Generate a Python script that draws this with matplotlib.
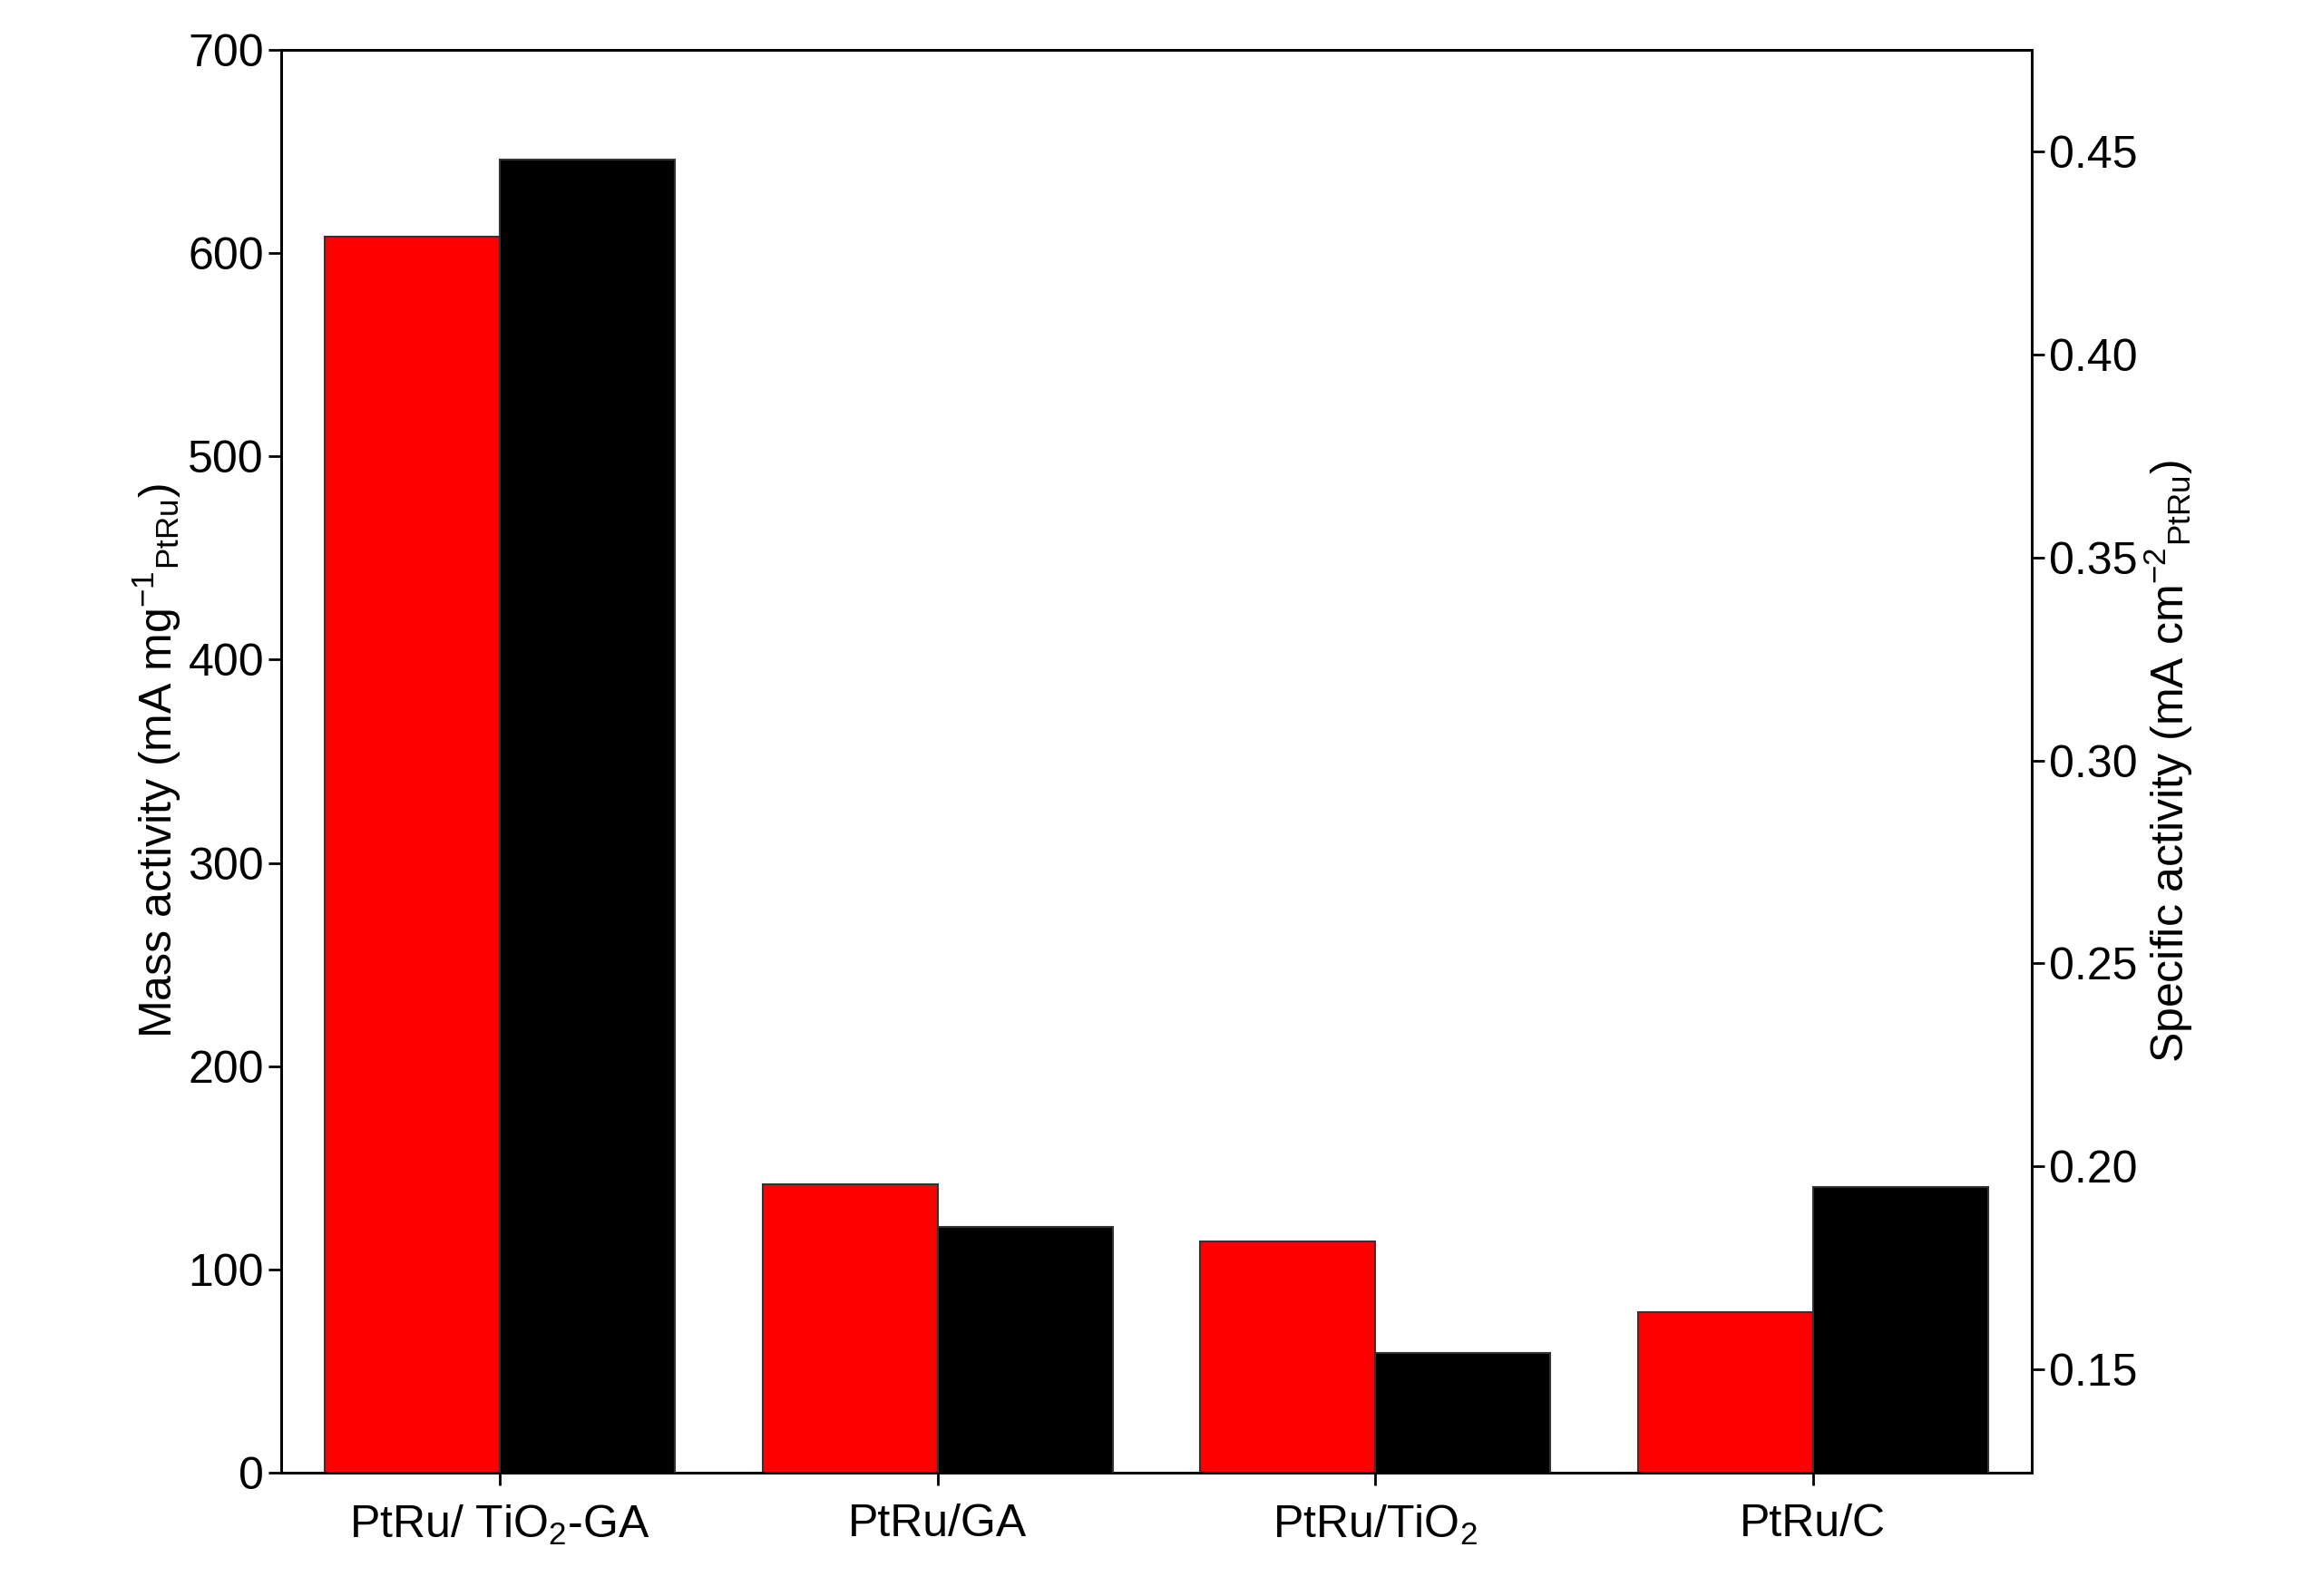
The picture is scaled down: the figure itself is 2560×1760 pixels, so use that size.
import matplotlib
matplotlib.use("Agg")
import matplotlib.pyplot as plt
import numpy as np

plt.rcParams['font.family'] = ['Liberation Sans', 'DejaVu Sans']
plt.rcParams['mathtext.fontset'] = 'custom'
plt.rcParams['mathtext.rm'] = 'Liberation Sans'

categories = ['PtRu/ TiO$_2$-GA', 'PtRu/GA', 'PtRu/TiO$_2$', 'PtRu/C']
mass_activity = [608, 142, 114, 79]
specific_activity = [0.448, 0.185, 0.154, 0.195]

fig = plt.figure(figsize=(25.6, 17.6), dpi=100)
ax = fig.add_axes([0.121, 0.077, 0.754, 0.892])
ax2 = ax.twinx()

x = np.arange(len(categories))
w = 0.4
ax.bar(x - w / 2, mass_activity, w, color='#ff0000', edgecolor='#333333', linewidth=1.5, zorder=3)
ax2.bar(x + w / 2, specific_activity, w, color='#000000', edgecolor='#333333', linewidth=1.5, zorder=3)

ax.set_xlim(-0.5, 3.5)
ax.set_ylim(0, 700)
ax2.set_ylim(0.1244, 0.4752)
ax.set_yticks(range(0, 701, 100))
ax2.set_yticks([0.15, 0.20, 0.25, 0.30, 0.35, 0.40, 0.45])
ax2.set_yticklabels(['0.15', '0.20', '0.25', '0.30', '0.35', '0.40', '0.45'])
ax.set_xticks(x)
ax.set_xticklabels(categories)

for a in (ax, ax2):
    a.tick_params(labelsize=36, width=2, length=10, direction='out')
    for s in a.spines.values():
        s.set_linewidth(2)
ax.tick_params(axis='x', pad=14)

ax.set_ylabel('Mass activity (mA mg$^{-1}$$_{\\mathrm{PtRu}}$)', fontsize=36)
ax2.set_ylabel('Specific activity (mA cm$^{-2}$$_{\\mathrm{PtRu}}$)', fontsize=36)

fig.savefig('out.png', dpi=100)
